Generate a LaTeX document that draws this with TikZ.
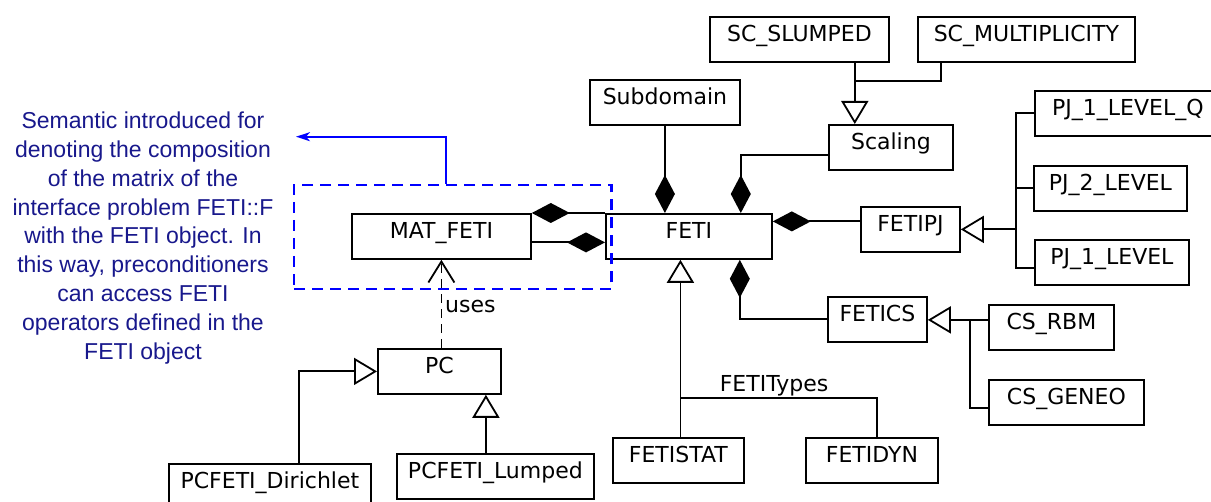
\documentclass[tikz,border=0pt]{standalone}
\usepackage{fontspec}
\setmainfont{DejaVu Sans}
\newfontfamily\notefont{Liberation Sans}
\usetikzlibrary{arrows.meta}

\definecolor{notecol}{RGB}{24,24,140}

\tikzset{
  cls/.style={draw, line width=1.8pt, anchor=north west, inner sep=0pt,
    minimum height=45pt, text height=17pt, text depth=12pt,
    font=\fontsize{22}{26}\selectfont},
  link/.style={line width=1.8pt},
  comp/.style={link, -{Diamond[length=38pt,width=20pt]}},
  gen/.style={link, -{Triangle[open,length=23pt,width=27pt]}},
  uses/.style={link, dash pattern=on 9pt off 6pt, -{Straight Barb[length=21pt,width=26pt]}},
}

\begin{document}
\begin{tikzpicture}[x=1pt,y=-1pt]
  \useasboundingbox (0,0) rectangle (1211,502);

  % classes: name/left/top/width/text
  \foreach \n/\x/\y/\w/\t in {
    scslumped/709/16/179/SC\_SLUMPED,
    scmult/917/16/217/SC\_MULTIPLICITY,
    subdomain/589/79/150/Subdomain,
    scaling/828/124/124/Scaling,
    pjq/1034/90/186/PJ\_1\_LEVEL\_Q,
    pjtwo/1033/165/153/PJ\_2\_LEVEL,
    pjone/1034/239/154/PJ\_1\_LEVEL,
    fetipj/860/206/99/FETIPJ,
    matfeti/351/213/179/MAT\_FETI,
    feti/605/213/166/FETI,
    fetics/827/296/99/FETICS,
    csrbm/988/304/125/CS\_RBM,
    csgeneo/988/379/155/CS\_GENEO,
    pc/377/348/123/PC,
    pcdir/168/463/202/PCFETI\_Dirichlet,
    pclump/396/453/197/PCFETI\_Lumped,
    fetistat/612/437/131/FETISTAT,
    fetidyn/805/437/132/FETIDYN}
  \node[cls, minimum width=\w] (\n) at (\x,\y) {\t};

  % composition into FETI
  \draw[comp] (subdomain.south) -- (subdomain.south |- feti.north);
  \draw[comp] ([yshift=-7.5]scaling.west) -| ([xshift=-32]feti.north east);
  \draw[comp] ([yshift=8]fetipj.west) -- ([yshift=8]fetipj.west -| feti.east);
  \draw[comp] (fetics.west) -| ([xshift=-33]feti.south east);
  \draw[comp] (feti.north west) -- (matfeti.north east);
  \draw[comp] ([yshift=-6]matfeti.east) -- ([yshift=-6]matfeti.east -| feti.west);

  % scaling
  \draw[gen] ([xshift=-35]scslumped.south east) -- ([xshift=-35]scslumped.south east |- scaling.north);
  \draw[link] ([xshift=24]scmult.south west) |- ([xshift=-35,yshift=-18]scslumped.south east);

  % projectors
  \coordinate (pjt) at ([xshift=-18]pjq.west);
  \draw[link] (pjq.west) -- (pjt) |- ([yshift=-6]pjone.west);
  \draw[link] (pjtwo.west) -- (pjtwo.west -| pjt);
  \draw[gen] (pjt |- fetipj.east) -- (fetipj.east);

  % coarse spaces
  \draw[gen] ([yshift=7.5]csrbm.west) -- ([yshift=7.5]csrbm.west -| fetics.east);
  \draw[link] ([xshift=-18,yshift=7.5]csrbm.west) |- ([yshift=-5.5]csgeneo.west);

  % FETI types
  \draw[gen] ([xshift=2]fetistat.north) -- ([xshift=2]fetistat.north |- feti.south);
  \draw[link] ([xshift=2,yshift=39]fetistat.north) -| ([xshift=5]fetidyn.north);
  \node[anchor=base, inner sep=0pt, font=\fontsize{22}{26}\selectfont] (ftypes) at (774,392) {FETITypes};

  % preconditioners
  \draw[gen] ([xshift=29]pcdir.north) |- (pc.west);
  \draw[gen] ([xshift=-9.5]pclump.north) -- ([xshift=-9.5]pclump.north |- pc.south);
  \draw[uses] (matfeti.south |- pc.north) -- (matfeti.south);
  \node[anchor=base west, inner sep=0pt, font=\fontsize{22}{26}\selectfont] (usestxt) at (445,313) {uses};

  % note
  \node[draw=blue, line width=2.6pt, dash pattern=on 11pt off 7pt, inner sep=0pt,
    minimum width=317.5pt, minimum height=104pt] (grp) at (452.75,237) {};
  \coordinate (notetip) at (296,136.7);
  \draw[blue, line width=2pt, -{Stealth[length=14pt,width=9pt,inset=4pt]}] ([xshift=-7]grp.north) |- (notetip);
  \node[align=center, inner sep=0pt, text=notecol,
    font=\notefont\fontsize{23}{28.9}\selectfont] (note) at (143,238)
    {Semantic introduced for\\denoting the composition\\of the matrix of the\\interface problem FETI::F\\with the FETI object. In\\this way, preconditioners\\can access FETI\\operators defined in the\\FETI object};
\end{tikzpicture}
\end{document}
